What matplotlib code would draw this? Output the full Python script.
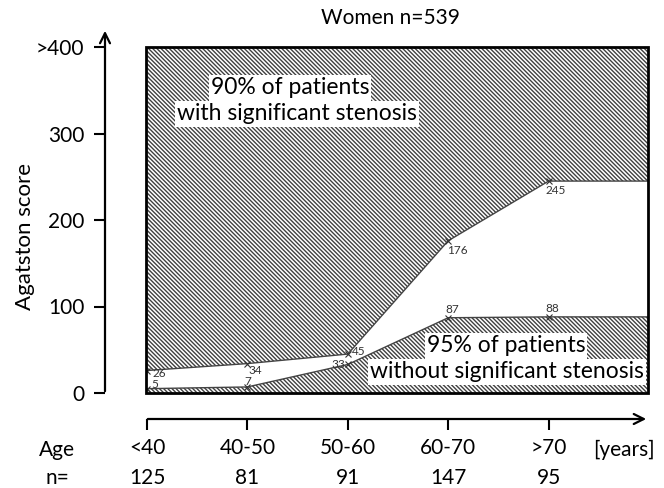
import numpy as np
import matplotlib
matplotlib.use('Agg')
import matplotlib.pyplot as plt
import matplotlib.transforms as mtransforms

plt.rcParams['font.family'] = ['Lato', 'DejaVu Sans']
plt.rcParams['hatch.linewidth'] = 1.0

# data
ages = ['<40', '40-50', '50-60', '60-70', '>70']
n_pat = ['125', '81', '91', '147', '95']
upper = [26, 34, 45, 176, 245]   # 90% of patients with significant stenosis
lower = [5, 7, 33, 87, 88]       # 95% of patients without significant stenosis
yticks = [0, 100, 200, 300, 400]
ylabels = ['0', '100', '200', '300', '>400']

# label offsets (points) for the point annotations
up_off = [(4, -2, 'left', 'center'), (1, -1, 'left', 'top'), (3, 2, 'left', 'center'),
          (-1, -3, 'left', 'top'), (-2, -3, 'left', 'top')]
lo_off = [(3, 3, 'left', 'center'), (0, 0, 'center', 'bottom'), (-2, 0, 'right', 'center'),
          (-2, 2, 'left', 'bottom'), (-2, 2, 'left', 'bottom')]

W, H = 664, 488
fig = plt.figure(figsize=(W/100, H/100), dpi=100)
ax = fig.add_axes([146/W, 1-393/H, (648-146)/W, (393-47)/H])
x = np.arange(len(ages))
ax.set_xlim(-0.01, 4.99)
ax.set_ylim(0, 400)

xr = ax.get_xlim()[1]
xe = np.append(x, xr)
ue = np.append(upper, upper[-1])
le = np.append(lower, lower[-1])

hc = '#404040'
hp = '\\' * 8
ax.fill_between(xe, ue, 400, facecolor='white', edgecolor=hc, hatch=hp, lw=0, zorder=1)
ax.fill_between(xe, 0, le, facecolor='white', edgecolor=hc, hatch=hp, lw=0, zorder=1)
ax.plot(xe, ue, color='#444444', lw=1, zorder=2)
ax.plot(xe, le, color='#444444', lw=1, zorder=2)
ax.plot(x, upper, 'x', color='#333333', ms=4, mew=0.8, zorder=3)
ax.plot(x, lower, 'x', color='#333333', ms=4, mew=0.8, zorder=3)

for i in range(len(x)):
    dx, dy, ha, va = up_off[i]
    ax.annotate(str(upper[i]), (x[i], upper[i]), xytext=(dx, dy), textcoords='offset points',
                ha=ha, va=va, fontsize=8.5, color='#333333', zorder=4)
    dx, dy, ha, va = lo_off[i]
    ax.annotate(str(lower[i]), (x[i], lower[i]), xytext=(dx, dy), textcoords='offset points',
                ha=ha, va=va, fontsize=8.5, color='#333333', zorder=4)

box = dict(facecolor='white', edgecolor='none', pad=1.5)
tf = fig.transFigure
fig.text(290/W, 1-88/H, '90% of patients', ha='center', va='center', fontsize=16.5, bbox=box, zorder=5)
fig.text(297/W, 1-114/H, 'with significant stenosis', ha='center', va='center', fontsize=16.5, bbox=box, zorder=5)
fig.text(506/W, 1-346/H, '95% of patients', ha='center', va='center', fontsize=16.5, bbox=box, zorder=5)
fig.text(507/W, 1-372/H, 'without significant stenosis', ha='center', va='center', fontsize=16.5, bbox=box, zorder=5)

# frame
ax.add_patch(plt.Rectangle((0, 0), 1, 1, transform=ax.transAxes, fill=False, lw=2,
                           edgecolor='black', clip_on=False, zorder=6))
for s in ax.spines.values():
    s.set_visible(False)
ax.spines['left'].set_position(('outward', 41*0.72))
ax.spines['bottom'].set_position(('outward', 26*0.72))

ax.set_yticks(yticks, ylabels)
ax.set_xticks(x, ages)
ax.tick_params(axis='y', direction='out', length=8, width=1.5, pad=7, labelsize=15)
ax.tick_params(axis='x', direction='out', length=8, width=1.5, pad=6, labelsize=15)

ax.annotate('', xy=(105/W, 1-28/H), xytext=(105/W, 1-394/H), xycoords='figure fraction',
            arrowprops=dict(arrowstyle='->', lw=1.6, color='black', mutation_scale=18))
ax.annotate('', xy=(649/W, 1-419/H), xytext=(145/W, 1-419/H), xycoords='figure fraction',
            arrowprops=dict(arrowstyle='->', lw=1.6, color='black', mutation_scale=18))

ax.set_ylabel('Agatston score', fontsize=16)
ax.yaxis.set_label_coords(35/W, 1-237/H, transform=tf)

fig.text(390/W, 1-18/H, 'Women n=539', ha='center', va='center', fontsize=15)
fig.text(57/W, 1-450/H, 'Age', ha='center', va='center', fontsize=15)
fig.text(624/W, 1-450/H, '[years]', ha='center', va='center', fontsize=15)
fig.text(57/W, 1-478/H, 'n=', ha='center', va='center', fontsize=15)
bt = mtransforms.blended_transform_factory(ax.transData, tf)
for i in range(len(x)):
    ax.text(x[i], 1-478/H, n_pat[i], transform=bt, ha='center', va='center', fontsize=15)

fig.savefig('out.png', dpi=100)
